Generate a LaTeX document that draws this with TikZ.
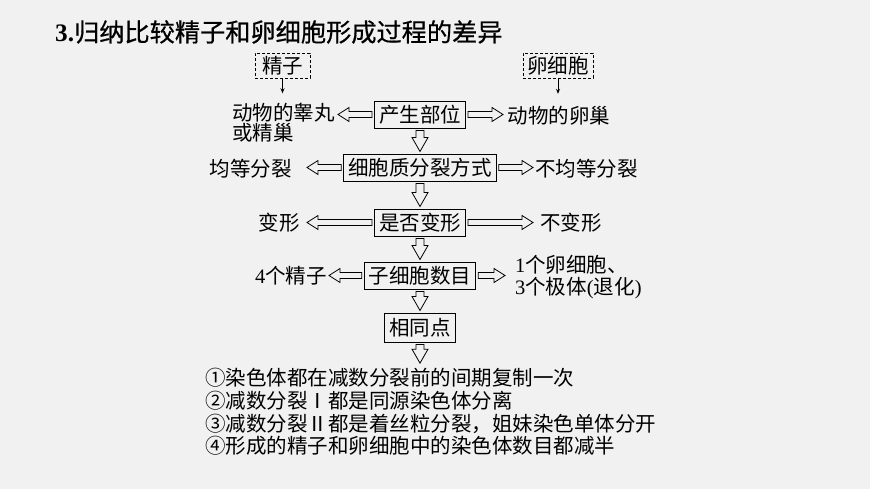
\documentclass[tikz,border=0pt]{standalone}
\usepackage{fontspec}
\newfontfamily\cjk{Noto Sans CJK SC}
\newfontfamily\cjkhead[FakeBold=0.6]{Noto Sans CJK SC}
\newfontfamily\tnr{Liberation Serif}
\usepackage{tikz}
\usetikzlibrary{calc,arrows.meta}

\definecolor{paper}{RGB}{241,241,241}

\tikzset{
	body/.style={font=\fontsize{20.5}{20}\selectfont\cjk, inner sep=0pt},
	stage/.style={body, draw, line width=0.9pt, text height=18pt, text depth=2.5pt,
		inner xsep=4.5pt, inner ysep=3.25pt, outer sep=2.5pt},
	cell/.style={body, draw, line width=0.9pt, dash pattern=on 3pt off 2pt,
		text height=18pt, text depth=2.5pt, inner ysep=2.25pt},
	blk/.style n args={3}{draw, line width=0.8pt, to path={
		($(\tikztostart)!#1!90:(\tikztotarget)$)
		-- ($(\tikztotarget)!#3!(\tikztostart)!#1!-90:(\tikztostart)$)
		-- ($(\tikztotarget)!#3!(\tikztostart)!#2!-90:(\tikztostart)$)
		-- (\tikztotarget)
		-- ($(\tikztotarget)!#3!(\tikztostart)!#2!90:(\tikztostart)$)
		-- ($(\tikztotarget)!#3!(\tikztostart)!#1!90:(\tikztostart)$)
		-- ($(\tikztostart)!#1!-90:(\tikztotarget)$)
		-- cycle}},
	hblk/.style={blk={3pt}{7pt}{11pt}},
	vblk/.style={blk={4pt}{8pt}{14pt}},
	thin/.style={-{Stealth[length=5pt,width=4pt]}, line width=0.7pt},
}

\begin{document}
\begin{tikzpicture}[x=1pt, y=-1pt]
	
	\fill[paper] (0,0) rectangle (870,489);
	\useasboundingbox (0,0) rectangle (870,489);
	
	\node (title) [anchor=base west, inner sep=0pt, font=\fontsize{25.2}{28}\selectfont\cjkhead]
		at (55,41.5) {{\tnr\bfseries 3.}归纳比较精子和卵细胞形成过程的差异};
	
	% the two cells
	\node (sperm) [cell, inner xsep=7pt] at (282.5,65.5) {精子};
	\node (egg) [cell, inner xsep=4.25pt] at (558,65.5) {卵细胞};
	
	% middle column
	\node (place) [stage] at (420,114.5) {产生部位};
	\node (split) [stage] at (420,167.5) {细胞质分裂方式};
	\node (shape) [stage] at (420,222.5) {是否变形};
	\node (count) [stage] at (420,275.5) {子细胞数目};
	\node (same) [stage, inner ysep=4.25pt] at (420,327.5) {相同点};
	
	% left side: sperm (base = last line)
	\node (placeL) [body, align=left, anchor=base east, inner xsep=3pt] at (338,140.8) {动物的睾丸\\或精巢};
	\node (splitL) [body, anchor=base east, inner xsep=15pt] at (307,176.8) {均等分裂};
	\node (shapeL) [body, anchor=base east, inner xsep=7pt] at (307,230.8) {变形};
	\node (countL) [body, anchor=base east, inner xsep=2pt] at (329,283.8) {{\tnr 4}个精子};
	
	% right side: egg
	\node (placeR) [body, anchor=base west, inner xsep=4.5pt] at (503,123.3) {动物的卵巢};
	\node (splitR) [body, anchor=base west, inner xsep=2pt] at (533,176.8) {不均等分裂};
	\node (shapeR) [body, anchor=base west, inner xsep=7pt] at (533,230.8) {不变形};
	\node (countR) [body, align=left, anchor=base west, inner xsep=10pt,
		font=\fontsize{20.5}{22}\selectfont\cjk] at (505,294.8) {{\tnr 1}个卵细胞、\\{\tnr 3}个极体{\tnr (}退化{\tnr )}};
	
	\node (list) [body, align=left, anchor=base west, inner ysep=5pt,
		font=\fontsize{20.5}{22.7}\selectfont\cjk] at (205,453.8)
		{①染色体都在减数分裂前的间期复制一次\\
		 ②减数分裂Ⅰ都是同源染色体分离\\
		 ③减数分裂Ⅱ都是着丝粒分裂，姐妹染色单体分开\\
		 ④形成的精子和卵细胞中的染色体数目都减半};
	
	\draw [thin, shorten >=10pt] (sperm.south) -- (sperm.south |- placeL.north);
	\draw [thin, shorten >=12pt] (egg.south) -- (egg.south |- placeR.north);
	
	\draw [hblk] (place.west) to (place.west -| placeL.east);
	\draw [hblk] (place.east) to (place.east -| placeR.west);
	\draw [hblk] (split.west) to (split.west -| splitL.east);
	\draw [hblk] (split.east) to (split.east -| splitR.west);
	\draw [hblk] (shape.west) to (shape.west -| shapeL.east);
	\draw [hblk] (shape.east) to (shape.east -| shapeR.west);
	\draw [hblk] (count.west) to (count.west -| countL.east);
	\draw [hblk] (count.east) to (count.east -| countR.west);
	
	\draw [vblk] (place.south) to (split.north);
	\draw [vblk] (split.south) to (shape.north);
	\draw [vblk] (shape.south) to (count.north);
	\draw [vblk] (count.south) to (same.north);
	\draw [vblk] (same.south) to (same.south |- list.north);
	
\end{tikzpicture}
\end{document}
